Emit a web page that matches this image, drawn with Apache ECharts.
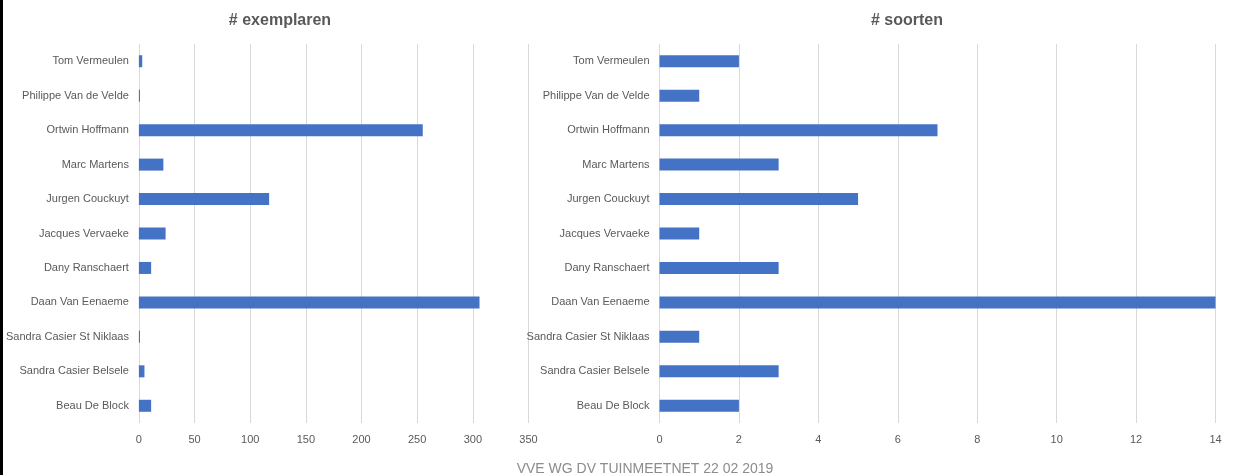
<!DOCTYPE html>
<html>
<head>
<meta charset="utf-8">
<script src="https://cdn.jsdelivr.net/npm/echarts@6/dist/echarts.min.js"></script>
<style>
  html, body { margin: 0; padding: 0; background: #fff; }
  #chart { width: 1234px; height: 475px; box-sizing: border-box; border-left: 3px solid #000; }
</style>
</head>
<body>
<div id="chart"></div>
<script>
// names listed top to bottom, as in the picture
const names = [
  'Tom Vermeulen', 'Philippe Van de Velde', 'Ortwin Hoffmann', 'Marc Martens',
  'Jurgen Couckuyt', 'Jacques Vervaeke', 'Dany Ranschaert', 'Daan Van Eenaeme',
  'Sandra Casier St Niklaas', 'Sandra Casier Belsele', 'Beau De Block'
];
const exemplaren = [3, 1, 255, 22, 117, 24, 11, 306, 1, 5, 11];
const soorten = [2, 1, 7, 3, 5, 1, 3, 14, 1, 3, 2];
const titles = ['# exemplaren', '# soorten'];
const footer = 'VVE WG DV TUINMEETNET 22 02 2019';

const font = 'Liberation Sans, Arial, sans-serif';
const grey = '#595959';

// canvas starts 3px in, after the black left border
const chart = echarts.init(document.getElementById('chart'));

const catAxis = (gridIndex) => ({
  type: 'category',
  gridIndex,
  data: names,
  inverse: true,
  axisLine: { show: false },
  axisTick: { show: false },
  axisLabel: { color: grey, fontSize: 11, fontFamily: font, margin: 10 },
});

const valAxis = (gridIndex, max, interval) => ({
  type: 'value',
  gridIndex,
  min: 0,
  max,
  interval,
  axisLine: { show: false },
  axisTick: { show: false },
  axisLabel: { color: grey, fontSize: 11, fontFamily: font, margin: 11 },
  splitLine: { lineStyle: { color: '#d9d9d9', width: 1 } },
});

chart.setOption({
  animation: false,
  title: [
    { text: titles[0], left: 272, top: 8, textAlign: 'center',
      textStyle: { color: grey, fontSize: 16, fontWeight: 'bold', fontFamily: font } },
    { text: titles[1], left: 899, top: 8, textAlign: 'center',
      textStyle: { color: grey, fontSize: 16, fontWeight: 'bold', fontFamily: font } },
    { text: footer, left: 637, top: 457, textAlign: 'center',
      textStyle: { color: '#8c8c8c', fontSize: 14, fontWeight: 'normal', fontFamily: font } },
  ],
  grid: [
    { left: 132.5, top: 44, width: 393, height: 379 },
    { left: 656.5, top: 44, width: 556, height: 379 },
  ],
  yAxis: [catAxis(0), catAxis(1)],
  xAxis: [valAxis(0, 350, 50), valAxis(1, 14, 2)],
  series: [
    { type: 'bar', xAxisIndex: 0, yAxisIndex: 0, data: exemplaren,
      barWidth: 12, itemStyle: { color: '#4472c4' } },
    { type: 'bar', xAxisIndex: 1, yAxisIndex: 1, data: soorten,
      barWidth: 12, itemStyle: { color: '#4472c4' } },
  ],
});
</script>
</body>
</html>
